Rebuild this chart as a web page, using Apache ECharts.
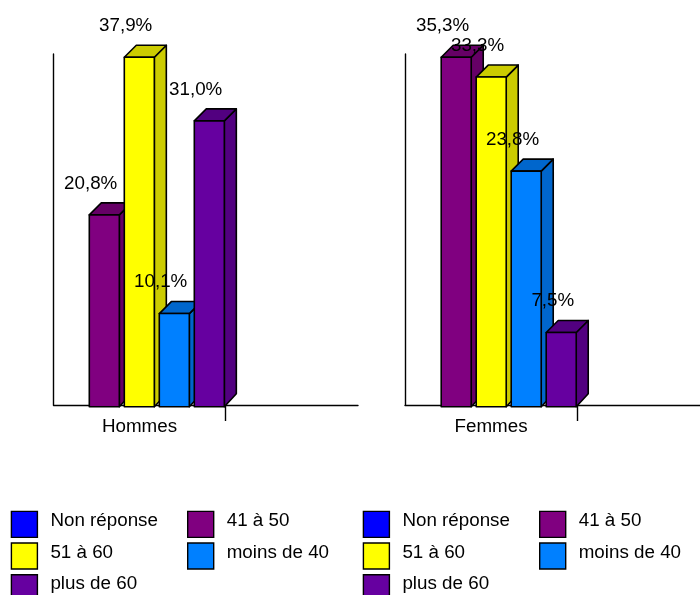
<!DOCTYPE html>
<html>
<head>
<meta charset="utf-8">
<style>html,body{margin:0;padding:0;background:#fff}#c{width:700px;height:595px}</style>
<script src="https://cdn.jsdelivr.net/npm/echarts@6/dist/echarts.min.js"></script>
</head>
<body>
<div id="c"></div>
<script>
const categories = ['Hommes', 'Femmes'];
const groups = ['Non réponse', '41 à 50', '51 à 60', 'moins de 40', 'plus de 60'];
const nonReponse = [null, null];
const de41a50 = [20.8, 35.3];
const de51a60 = [37.9, 33.3];
const moinsDe40 = [10.1, 23.8];
const plusDe60 = [31.0, 7.5];
const values = [nonReponse, de41a50, de51a60, moinsDe40, plusDe60];
const frontColors = ['#0000FF', '#800080', '#FFFF00', '#0080FF', '#6600A0'];
const sideColors = ['#0000CC', '#660066', '#CCCC00', '#0066CC', '#520080'];
const panelLefts = [53.5, 405];
const panelWidths = [304.5, 295];
const yMin = [0.184, 0.172];
const yMax = [38.25, 35.63];
const bandPx = 172;
const legendRows = [['Non réponse', '41 à 50'], ['51 à 60', 'moins de 40'], ['plus de 60']];
const fontFamily = '"Liberation Sans", Arial, sans-serif';
const fontSize = 18.8;

const chart = echarts.init(document.getElementById('c'), null, {renderer: 'canvas'});

const BAR_W = 0.1745, SLOT = 0.2035, DEPTH = 12;
const stroke = {stroke: '#000', lineWidth: 1.6, lineJoin: 'round'};

function makeRender(slot, panel) {
  const nudge = panel === 0 ? 0.8 : 1.2;
  return function (params, api) {
    const v = api.value(1);
    if (v == null || isNaN(v)) return null;
    const band = api.size([1, 0])[0];
    const origin = api.coord([0, 0]);
    const topPt = api.coord([0, v]);
    const x = origin[0] + band * SLOT * slot + nudge;
    const w = band * BAR_W;
    const yB = origin[1], yT = topPt[1];
    return {
      type: 'group',
      children: [
        {type: 'polygon', z2: 10 + slot, shape: {points: [[x + w, yT], [x + w + DEPTH, yT - DEPTH], [x + w + DEPTH, yB - DEPTH - 1], [x + w, yB]]},
          style: Object.assign({fill: sideColors[slot]}, stroke)},
        {type: 'polygon', z2: 10 + slot, shape: {points: [[x, yT], [x + DEPTH, yT - DEPTH], [x + w + DEPTH, yT - DEPTH], [x + w, yT]]},
          style: Object.assign({fill: sideColors[slot]}, stroke)},
        {type: 'rect', z2: 10 + slot, shape: {x: x, y: yT, width: w, height: yB - yT},
          style: Object.assign({fill: frontColors[slot]}, stroke)},
        {type: 'text', z2: 100, style: {
          x: x + 28, y: yT - 31.3,
          text: v.toFixed(1).replace('.', ',') + '%',
          fill: '#000', font: fontSize + 'px ' + fontFamily,
          textAlign: 'right', textVerticalAlign: 'middle'
        }}
      ]
    };
  };
}

const grids = [], xAxes = [], yAxes = [], series = [];
categories.forEach((cat, p) => {
  grids.push({left: panelLefts[p], width: panelWidths[p], top: 54, height: 351});
  xAxes.push({
    gridIndex: p, type: 'value', min: 0, max: panelWidths[p] / bandPx,
    position: 'bottom',
    splitLine: {show: false},
    axisLine: {show: true, onZero: false, lineStyle: {color: '#000', width: 1.4}},
    axisTick: {show: true, customValues: [1], length: 16, lineStyle: {color: '#000', width: 1.4}},
    axisLabel: {show: true, customValues: [0.5], formatter: () => cat, margin: 12,
      color: '#000', fontFamily: fontFamily, fontSize: fontSize}
  });
  yAxes.push({
    gridIndex: p, type: 'value', min: yMin[p], max: yMax[p],
    splitLine: {show: false},
    axisLine: {show: true, onZero: false, lineStyle: {color: '#000', width: 1.4}},
    axisTick: {show: false}, axisLabel: {show: false}
  });
  groups.forEach((g, s) => {
    series.push({
      type: 'custom', name: g, xAxisIndex: p, yAxisIndex: p,
      coordinateSystem: 'cartesian2d', clip: false, silent: true,
      itemStyle: {color: frontColors[s]},
      encode: {x: 0, y: 1},
      data: [[0, values[s][p]]],
      renderItem: makeRender(s, p)
    });
  });
});

const rowTops = [510.7, 542.3, 574];
const colLefts = [10.7, 187, 362.7, 539];
const legends = [];
colLefts.forEach((left, c) => {
  legendRows.forEach((row, r) => {
    const name = row[c % 2];
    if (!name) return;
    legends.push({
      data: [name], left: left, top: rowTops[r], orient: 'horizontal', padding: 0,
      icon: 'rect', itemWidth: 26, itemHeight: 26, itemGap: 13,
      selectedMode: false,
      formatter: n => '{t|' + n + '}\n{s| }',
      itemStyle: {borderColor: '#000', borderWidth: 1.4},
      textStyle: {color: '#000', fontFamily: fontFamily, fontSize: fontSize, padding: [0, 0, 0, 8],
        rich: {t: {fontFamily: fontFamily, fontSize: fontSize, color: '#000', lineHeight: 21},
               s: {fontSize: 1, lineHeight: 7}}}
    });
  });
});

chart.setOption({
  animation: false,
  backgroundColor: '#fff',
  grid: grids, xAxis: xAxes, yAxis: yAxes, series: series,
  legend: legends
});
</script>
</body>
</html>
